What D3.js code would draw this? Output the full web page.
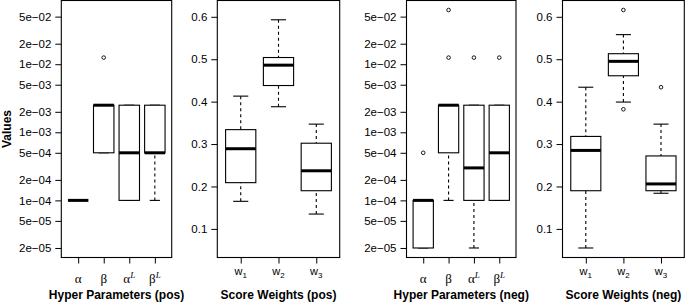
<!DOCTYPE html>
<html>
<head>
<meta charset="utf-8">
<script src="https://cdn.jsdelivr.net/npm/d3@7"></script>
<style>
body { margin: 0; background: #fff; }
svg { display: block; }
text { font-family: "Liberation Sans", Arial, sans-serif; fill: #000; }
</style>
</head>
<body>
<svg id="chart" width="685" height="303"></svg>
<script>
// box stats per group: [lower whisker, q1, median, q3, upper whisker]
const hyperLabels = [["α", ""], ["β", ""], ["α", "L"], ["β", "L"]];
const weightLabels = ["1", "2", "3"];

const hyperPos = [
    [1e-4, 1e-4, 1e-4, 1e-4, 1e-4],
    [5e-4, 5e-4, 2.5e-3, 2.5e-3, 2.5e-3],
    [1e-4, 1e-4, 5e-4, 2.5e-3, 2.5e-3],
    [1e-4, 5e-4, 5e-4, 2.5e-3, 2.5e-3]
];
const hyperPosOut = [[], [1.25e-2], [], []];

const weightPos = [
    [0.165, 0.209, 0.289, 0.334, 0.413],
    [0.388, 0.438, 0.486, 0.504, 0.593],
    [0.135, 0.190, 0.237, 0.302, 0.347]
];
const weightPosOut = [[], [], []];

const hyperNeg = [
    [2e-5, 2e-5, 1e-4, 1e-4, 1e-4],
    [1e-4, 5e-4, 2.5e-3, 2.5e-3, 2.5e-3],
    [2e-5, 1e-4, 3e-4, 2.5e-3, 2.5e-3],
    [1e-4, 1e-4, 5e-4, 2.5e-3, 2.5e-3]
];
const hyperNegOut = [[5e-4], [1.25e-2, 6.25e-2], [1.25e-2], [1.25e-2]];

const weightNeg = [
    [0.055, 0.190, 0.285, 0.318, 0.434],
    [0.399, 0.461, 0.495, 0.513, 0.558],
    [0.184, 0.190, 0.206, 0.272, 0.347]
];
const weightNegOut = [[], [0.616, 0.382], [0.434]];

const logTicks = [2e-5, 5e-5, 1e-4, 2e-4, 5e-4, 1e-3, 2e-3, 5e-3, 1e-2, 2e-2, 5e-2];
const linTicks = [0.1, 0.2, 0.3, 0.4, 0.5, 0.6];

const titles = ["Hyper Parameters (pos)", "Score Weights (pos)", "Hyper Parameters (neg)", "Score Weights (neg)"];

// plot area
const plotTop = 0.5, plotBottom = 257.5;
const svg = d3.select("#chart");

// shared y scales, padded by 4% like R does
function allVals(stats, outs) {
    return stats.flat().concat(outs.flat());
}
const logExt = d3.extent(allVals(hyperPos, hyperPosOut).concat(allVals(hyperNeg, hyperNegOut)).map(Math.log10));
const logPad = (logExt[1] - logExt[0]) * 0.04;
const yLog = d3.scaleLog()
    .domain([Math.pow(10, logExt[0] - logPad), Math.pow(10, logExt[1] + logPad)])
    .range([plotBottom, plotTop]);

const linExt = d3.extent(allVals(weightPos, weightPosOut).concat(allVals(weightNeg, weightNegOut)));
const linPad = (linExt[1] - linExt[0]) * 0.04;
const yLin = d3.scaleLinear()
    .domain([linExt[0] - linPad, linExt[1] + linPad])
    .range([plotBottom, plotTop]);

function expFmt(d) {
    const parts = d.toExponential(0).split("e");
    const e = +parts[1];
    return parts[0] + "e" + (e < 0 ? "\u2212" : "+") + String(Math.abs(e)).padStart(2, "0");
}

const panels = [
    {left: 61.3, right: 171.7, stats: hyperPos, outs: hyperPosOut, y: yLog, ticks: logTicks, fmt: expFmt, kind: "hyper", title: titles[0], ylab: "Values"},
    {left: 217.3, right: 339.7, stats: weightPos, outs: weightPosOut, y: yLin, ticks: linTicks, fmt: d3.format(".1f"), kind: "weight", title: titles[1]},
    {left: 406.5, right: 516, stats: hyperNeg, outs: hyperNegOut, y: yLog, ticks: logTicks, fmt: expFmt, kind: "hyper", title: titles[2]},
    {left: 562.5, right: 684.3, stats: weightNeg, outs: weightNegOut, y: yLin, ticks: linTicks, fmt: d3.format(".1f"), kind: "weight", title: titles[3]}
];

panels.forEach(p => {
    const n = p.stats.length;
    const x = d3.scaleLinear()
        .domain([0.5 - 0.04 * n, n + 0.5 + 0.04 * n])
        .range([p.left, p.right]);
    const y = p.y;
    const g = svg.append("g");

    // y axis
    const ya = g.append("g")
        .attr("transform", `translate(${p.left},0)`)
        .call(d3.axisLeft(y).tickValues(p.ticks).tickFormat(p.fmt).tickSize(6).tickPadding(4));
    ya.select(".domain").remove();
    ya.selectAll("line").attr("stroke", "#000");
    ya.selectAll("text").style("font-size", "11.5px").attr("fill", "#000");

    // x axis
    const xa = g.append("g")
        .attr("transform", `translate(0,${plotBottom})`)
        .call(d3.axisBottom(x).tickValues(d3.range(1, n + 1)).tickFormat("").tickSize(6));
    xa.select(".domain").remove();
    xa.selectAll("line").attr("stroke", "#000");

    // x tick labels
    if (p.kind === "hyper") {
        hyperLabels.forEach((lab, i) => {
            const t = g.append("text")
                .attr("x", x(i + 1))
                .attr("y", 282.5)
                .attr("text-anchor", "middle");
            t.append("tspan")
                .style("font-family", "'Liberation Serif', 'DejaVu Serif', serif")
                .style("font-size", "13px")
                .text(lab[0]);
            if (lab[1]) {
                t.append("tspan")
                    .attr("dy", -5)
                    .style("font-family", "'Liberation Serif', 'DejaVu Serif', serif")
                    .style("font-style", "italic")
                    .style("font-size", "9px")
                    .text(lab[1]);
            }
        });
    } else {
        weightLabels.forEach((lab, i) => {
            const t = g.append("text")
                .attr("x", x(i + 1))
                .attr("y", 274.5)
                .attr("text-anchor", "middle");
            t.append("tspan").style("font-size", "11px").text("w");
            t.append("tspan").attr("dy", 3).style("font-size", "8px").text(lab);
        });
    }

    // axis title
    g.append("text")
        .attr("x", (p.left + p.right) / 2)
        .attr("y", 299)
        .attr("text-anchor", "middle")
        .style("font-size", "12px")
        .style("font-weight", "bold")
        .text(p.title);

    if (p.ylab) {
        g.append("text")
            .attr("transform", `translate(10.5,${(plotTop + plotBottom) / 2}) rotate(-90)`)
            .attr("text-anchor", "middle")
            .style("font-size", "12px")
            .style("font-weight", "bold")
            .text(p.ylab);
    }

    // boxes
    const bw = x(1.4) - x(1);   // half box width (boxwex 0.8)
    const sw = x(1.2) - x(1);   // half staple width
    const boxes = g.selectAll(".bx")
        .data(p.stats)
        .join("g")
        .attr("class", "bx");

    boxes.each(function (s, i) {
        const b = d3.select(this);
        const cx = x(i + 1);
        // whiskers
        [[s[0], s[1]], [s[4], s[3]]].forEach(w => {
            if (w[0] !== w[1]) {
                b.append("line")
                    .attr("x1", cx).attr("x2", cx)
                    .attr("y1", y(w[0])).attr("y2", y(w[1]))
                    .attr("stroke", "#000").attr("stroke-width", 1.1)
                    .attr("stroke-dasharray", "3,3");
            }
            b.append("line")
                .attr("x1", cx - sw).attr("x2", cx + sw)
                .attr("y1", y(w[0])).attr("y2", y(w[0]))
                .attr("stroke", "#000").attr("stroke-width", 1.1);
        });
        b.append("rect")
            .attr("x", cx - bw)
            .attr("width", 2 * bw)
            .attr("y", y(s[3]))
            .attr("height", y(s[1]) - y(s[3]))
            .attr("fill", "#fff")
            .attr("stroke", "#000")
            .attr("stroke-width", 1.1);
        b.append("line")
            .attr("x1", cx - bw).attr("x2", cx + bw)
            .attr("y1", y(s[2])).attr("y2", y(s[2]))
            .attr("stroke", "#000").attr("stroke-width", 3);
        b.selectAll("circle")
            .data(p.outs[i])
            .join("circle")
            .attr("cx", cx)
            .attr("cy", d => y(d))
            .attr("r", 1.8)
            .attr("fill", "none")
            .attr("stroke", "#000")
            .attr("stroke-width", 0.9);
    });

    // frame
    g.append("rect")
        .attr("x", p.left)
        .attr("y", plotTop)
        .attr("width", p.right - p.left)
        .attr("height", plotBottom - plotTop)
        .attr("fill", "none")
        .attr("stroke", "#000")
        .attr("stroke-width", 1.1);
});
</script>
</body>
</html>
